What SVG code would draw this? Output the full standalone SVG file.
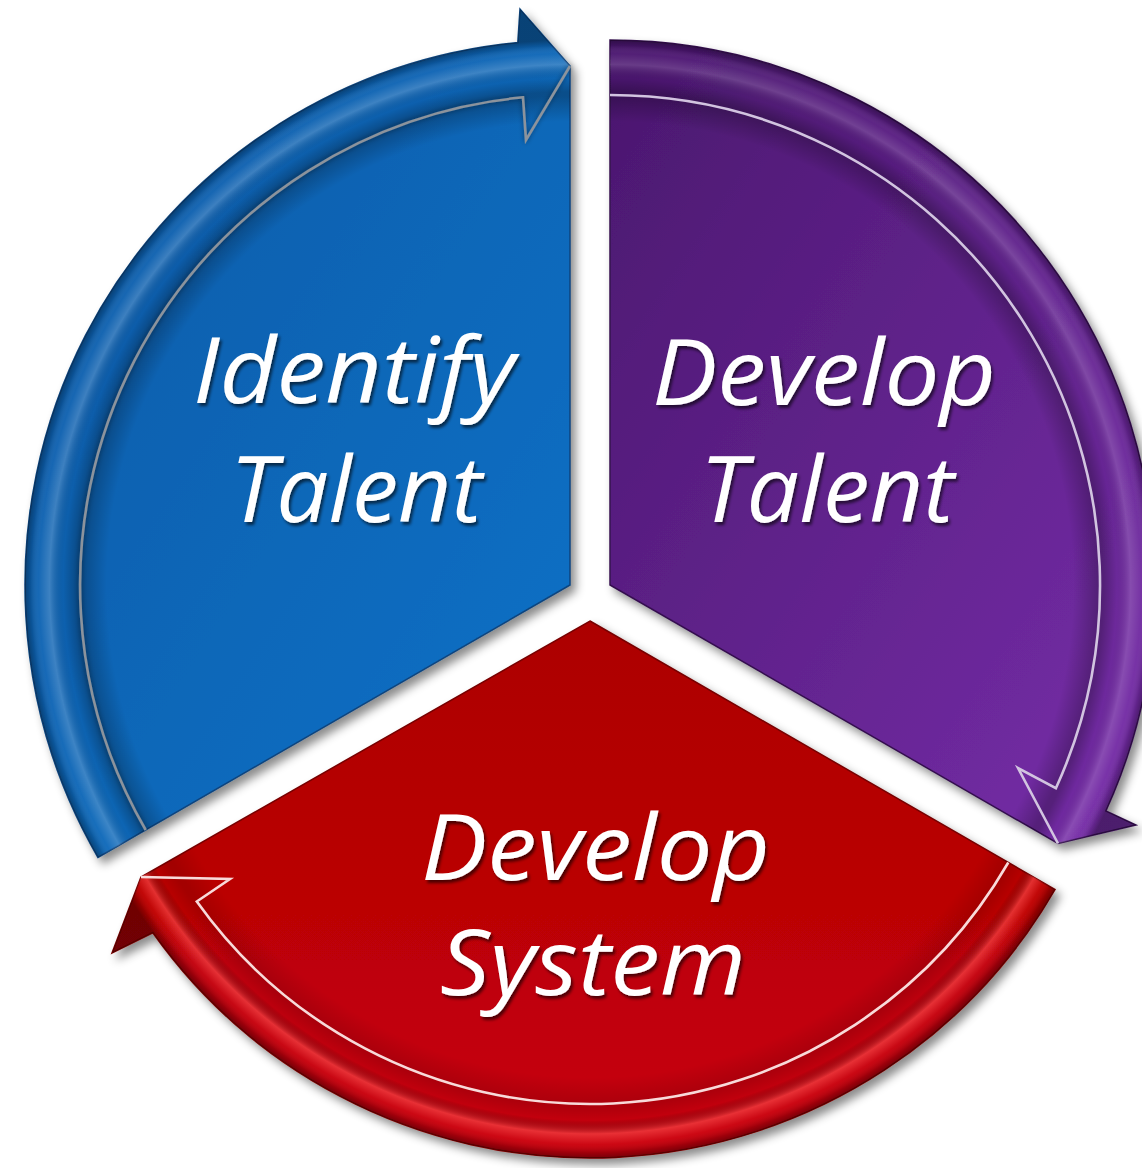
<svg xmlns="http://www.w3.org/2000/svg" width="1142" height="1168" viewBox="0 0 1142 1168">
<style>
.lbl{font-family:"Open Sans","Noto Sans","Liberation Sans",sans-serif;font-style:italic;font-size:91px;fill:#ffffff;filter:url(#txtShadow)}
.edgeB{fill:none;stroke:#8c939c;stroke-width:2.6;stroke-linejoin:miter}
.edgeP{fill:none;stroke:#d2c4e0;stroke-width:2.6;stroke-linejoin:miter}
.edgeR{fill:none;stroke:#f8dada;stroke-width:2.6;stroke-linejoin:miter}
</style>
<defs>
<filter id="dropShadow" x="-10%" y="-10%" width="125%" height="125%">
<feDropShadow dx="5" dy="6" stdDeviation="5" flood-color="#000" flood-opacity="0.45"/>
</filter>
<filter id="txtShadow" x="-10%" y="-20%" width="130%" height="150%">
<feDropShadow dx="2" dy="3" stdDeviation="1.5" flood-color="#000" flood-opacity="0.6"/>
</filter>
<filter id="lineHalo" x="-5%" y="-5%" width="110%" height="110%">
<feDropShadow dx="0" dy="0" stdDeviation="2.5" flood-color="#000" flood-opacity="0.45"/>
</filter>
<linearGradient id="gBlue" x1="0" y1="0" x2="1" y2="1">
<stop offset="0" stop-color="#0a5aa6"/>
<stop offset="1" stop-color="#0772c8"/>
</linearGradient>
<linearGradient id="gPurple" x1="0" y1="0" x2="1" y2="1">
<stop offset="0" stop-color="#4a176e"/>
<stop offset="1" stop-color="#772eaa"/>
</linearGradient>
<linearGradient id="gRed" x1="0" y1="0" x2="0" y2="1">
<stop offset="0" stop-color="#ac0000"/>
<stop offset="1" stop-color="#c8030b"/>
</linearGradient>
<radialGradient id="bandB" gradientUnits="userSpaceOnUse" cx="570" cy="585" r="545">
<stop offset="0" stop-color="#000" stop-opacity="0"/>
<stop offset="0.85" stop-color="#000" stop-opacity="0"/>
<stop offset="0.897" stop-color="#000" stop-opacity="0.25"/>
<stop offset="0.905" stop-color="#000" stop-opacity="0.25"/>
<stop offset="0.93" stop-color="#000" stop-opacity="0.03"/>
<stop offset="0.955" stop-color="#fff" stop-opacity="0.2"/>
<stop offset="0.975" stop-color="#fff" stop-opacity="0.04"/>
<stop offset="0.99" stop-color="#000" stop-opacity="0.15"/>
<stop offset="1" stop-color="#000" stop-opacity="0.35"/>
</radialGradient>
<radialGradient id="bandP" gradientUnits="userSpaceOnUse" cx="610" cy="585" r="545">
<stop offset="0" stop-color="#000" stop-opacity="0"/>
<stop offset="0.85" stop-color="#000" stop-opacity="0"/>
<stop offset="0.897" stop-color="#000" stop-opacity="0.25"/>
<stop offset="0.905" stop-color="#000" stop-opacity="0.25"/>
<stop offset="0.93" stop-color="#000" stop-opacity="0.03"/>
<stop offset="0.955" stop-color="#fff" stop-opacity="0.16"/>
<stop offset="0.975" stop-color="#fff" stop-opacity="0.04"/>
<stop offset="0.99" stop-color="#000" stop-opacity="0.15"/>
<stop offset="1" stop-color="#000" stop-opacity="0.35"/>
</radialGradient>
<radialGradient id="bandR" gradientUnits="userSpaceOnUse" cx="590" cy="621" r="537">
<stop offset="0" stop-color="#000" stop-opacity="0"/>
<stop offset="0.85" stop-color="#000" stop-opacity="0"/>
<stop offset="0.897" stop-color="#000" stop-opacity="0.12"/>
<stop offset="0.905" stop-color="#000" stop-opacity="0.12"/>
<stop offset="0.93" stop-color="#000" stop-opacity="0.02"/>
<stop offset="0.955" stop-color="#ff5050" stop-opacity="0.6"/>
<stop offset="0.975" stop-color="#ff5050" stop-opacity="0.1"/>
<stop offset="0.99" stop-color="#000" stop-opacity="0.2"/>
<stop offset="1" stop-color="#000" stop-opacity="0.4"/>
</radialGradient>
</defs>
<rect width="1142" height="1168" fill="#ffffff"/>

<g id="node-identify-talent">
<path d="M570,585 L98,857.5 A545,545 0 0 1 517.8,42.5 L520,9 L570,66 Z" fill="url(#gBlue)" stroke="#0a447e" stroke-width="1.5" filter="url(#dropShadow)"/>
<path d="M570,585 L98,857.5 A545,545 0 0 1 517.8,42.5 L520,9 L570,66 Z" fill="url(#bandB)"/>
<path class="edgeB" filter="url(#lineHalo)" d="M145.7,830 A490,490 0 0 1 523,97.3 L526,140 L570,66"/>
<text class="lbl" x="193" y="403" textLength="322" lengthAdjust="spacingAndGlyphs">Identify</text>
<text class="lbl" x="230" y="522" textLength="252" lengthAdjust="spacingAndGlyphs">Talent</text>
</g>

<g id="node-develop-talent">
<path d="M610,585 L610,40 A545,545 0 0 1 1105.9,811 L1136,825 L1058,843.5 Z" fill="url(#gPurple)" stroke="#35104f" stroke-width="1.5" filter="url(#dropShadow)"/>
<path d="M610,585 L610,40 A545,545 0 0 1 1105.9,811 L1136,825 L1058,843.5 Z" fill="url(#bandP)"/>
<path class="edgeP" d="M610,95 A490,490 0 0 1 1055.9,788.2 L1018,768 L1058,843.5"/>
<text class="lbl" x="652" y="405" textLength="344" lengthAdjust="spacingAndGlyphs">Develop</text>
<text class="lbl" x="700" y="522" textLength="254" lengthAdjust="spacingAndGlyphs">Talent</text>
</g>

<g id="node-develop-system">
<path d="M590,621 L1055.1,889.5 A537,537 0 0 1 152.8,932.8 L112,953 L141,877 Z" fill="url(#gRed)" stroke="#780000" stroke-width="1.5" filter="url(#dropShadow)"/>
<path d="M590,621 L1055.1,889.5 A537,537 0 0 1 152.8,932.8 L112,953 L141,877 Z" fill="url(#bandR)"/>
<path class="edgeR" d="M1008.3,862.5 A483,483 0 0 1 196.8,901.5 L230,879 L141,877"/>
<text class="lbl" x="421" y="880" textLength="349" lengthAdjust="spacingAndGlyphs">Develop</text>
<text class="lbl" x="440" y="995" textLength="306" lengthAdjust="spacingAndGlyphs">System</text>
</g>

<g id="connectors"/>
</svg>
